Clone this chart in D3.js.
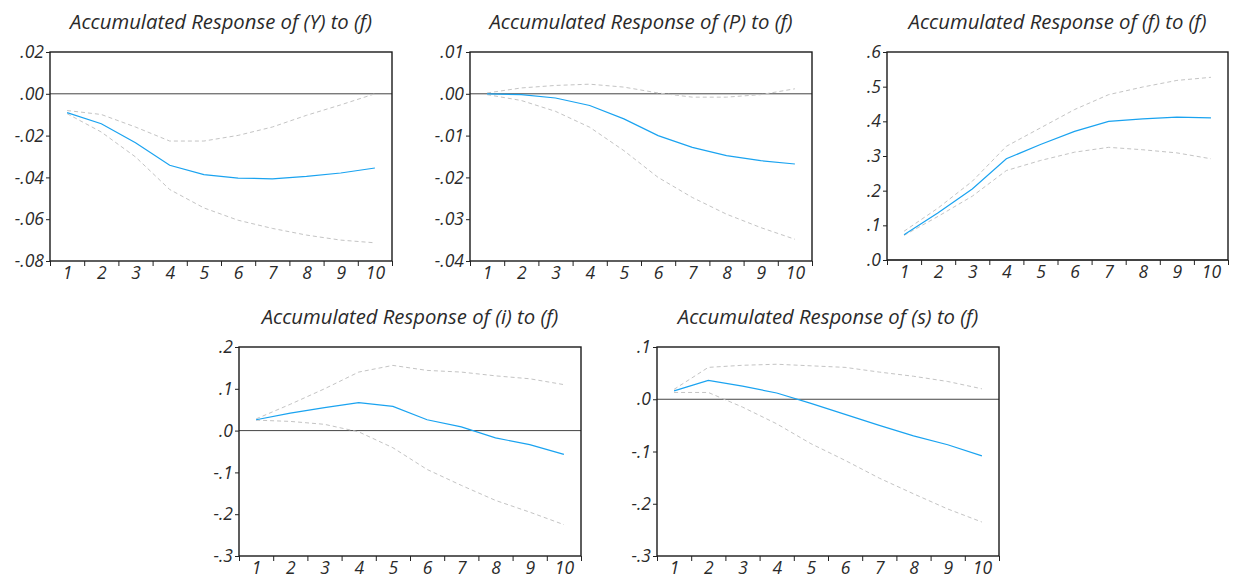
<!DOCTYPE html>
<html lang="en">
<head>
<meta charset="UTF-8">
<title>Accumulated Responses to (f)</title>
<style>
  * { margin: 0; }
  body { width: 1235px; height: 577px; background: #fff; overflow: hidden; }
  svg { display: block; }
  .title { font-family: "Open Sans", Lato, sans-serif; font-style: italic; font-weight: 400; font-size: 20.3px; fill: #2a2a2a; }
  .axis text { font-family: "Open Sans", Lato, sans-serif; font-style: italic; font-weight: 400; font-size: 17.5px; fill: #2a2a2a; }
  .axis path, .axis line { stroke: #222; }
</style>
</head>
<body>
<svg id="chart" width="1235" height="577"></svg>
<script src="https://d3js.org/d3.v7.min.js"></script>
<script>
// periods 1..10
const periods = [1, 2, 3, 4, 5, 6, 7, 8, 9, 10];

// (Y) to (f)
const yResp  = [-0.009, -0.0143, -0.0234, -0.0342, -0.0387, -0.0403, -0.0407, -0.0395, -0.0379, -0.0355];
const yUpper = [-0.008, -0.0099, -0.0159, -0.0226, -0.0226, -0.0199, -0.0159, -0.0103, -0.0053, 0.000];
const yLower = [-0.0095, -0.0183, -0.0302, -0.0458, -0.0546, -0.0605, -0.0644, -0.0676, -0.0700, -0.0713];
const yTicks = [0.02, 0.00, -0.02, -0.04, -0.06, -0.08];

// (P) to (f)
const pResp  = [0.000, -0.0002, -0.001, -0.0028, -0.006, -0.010, -0.0128, -0.0148, -0.016, -0.0168];
const pUpper = [0.0002, 0.0014, 0.0020, 0.0023, 0.0016, 0.0002, -0.0008, -0.0008, -0.0002, 0.0012];
const pLower = [-0.0002, -0.0016, -0.0042, -0.008, -0.0136, -0.020, -0.0248, -0.0288, -0.032, -0.0348];
const pTicks = [0.01, 0.00, -0.01, -0.02, -0.03, -0.04];

// (f) to (f)
const fResp  = [0.073, 0.136, 0.205, 0.292, 0.333, 0.371, 0.400, 0.407, 0.412, 0.410];
const fUpper = [0.083, 0.150, 0.227, 0.328, 0.381, 0.434, 0.477, 0.499, 0.518, 0.527];
const fLower = [0.071, 0.126, 0.184, 0.258, 0.287, 0.311, 0.325, 0.318, 0.309, 0.292];
const fTicks = [0.6, 0.5, 0.4, 0.3, 0.2, 0.1, 0.0];

// (i) to (f)
const iResp  = [0.026, 0.042, 0.055, 0.067, 0.058, 0.026, 0.009, -0.0175, -0.0335, -0.057];
const iUpper = [0.028, 0.063, 0.100, 0.140, 0.156, 0.144, 0.140, 0.131, 0.124, 0.110];
const iLower = [0.025, 0.022, 0.015, -0.003, -0.041, -0.093, -0.131, -0.167, -0.195, -0.225];
const iTicks = [0.2, 0.1, 0.0, -0.1, -0.2, -0.3];

// (s) to (f)
const sResp  = [0.016, 0.036, 0.025, 0.012, -0.008, -0.029, -0.050, -0.070, -0.087, -0.1085];
const sUpper = [0.019, 0.061, 0.065, 0.067, 0.064, 0.061, 0.052, 0.044, 0.034, 0.020];
const sLower = [0.013, 0.013, -0.015, -0.047, -0.085, -0.117, -0.151, -0.181, -0.210, -0.235];
const sTicks = [0.1, 0.0, -0.1, -0.2, -0.3];

const panels = [
  {title: "Accumulated Response of (Y) to (f)", resp: yResp, upper: yUpper, lower: yLower, ticks: yTicks, fmt: ".2f", x: 50,  y: 52,  w: 342, h: 209},
  {title: "Accumulated Response of (P) to (f)", resp: pResp, upper: pUpper, lower: pLower, ticks: pTicks, fmt: ".2f", x: 470, y: 52,  w: 342, h: 209},
  {title: "Accumulated Response of (f) to (f)", resp: fResp, upper: fUpper, lower: fLower, ticks: fTicks, fmt: ".1f", x: 887, y: 52,  w: 341, h: 208},
  {title: "Accumulated Response of (i) to (f)", resp: iResp, upper: iUpper, lower: iLower, ticks: iTicks, fmt: ".1f", x: 239, y: 347, w: 342, h: 209},
  {title: "Accumulated Response of (s) to (f)", resp: sResp, upper: sUpper, lower: sLower, ticks: sTicks, fmt: ".1f", x: 657, y: 347, w: 342, h: 209}
];

const svg = d3.select("#chart");

panels.forEach(p => {
  const g = svg.append("g").attr("transform", `translate(${p.x},${p.y})`);

  const x = d3.scaleLinear().domain([0.5, 10.5]).range([0, p.w]);
  const y = d3.scaleLinear().domain(d3.extent(p.ticks)).range([p.h, 0]);

  const f = d3.format(p.fmt);
  // EViews style labels: no leading zero, plain hyphen
  const noLead = v => f(v).replace("\u2212", "-").replace("0.", ".");

  // title
  g.append("text")
    .attr("class", "title")
    .attr("x", p.w / 2)
    .attr("y", -23)
    .attr("text-anchor", "middle")
    .text(p.title);

  // zero line
  g.append("line")
    .attr("x1", 0).attr("x2", p.w)
    .attr("y1", y(0)).attr("y2", y(0))
    .attr("stroke", "#444")
    .attr("stroke-width", 1);

  const line = d3.line().x((d, i) => x(periods[i])).y(d => y(d));

  g.append("path").datum(p.upper)
    .attr("d", line).attr("fill", "none")
    .attr("stroke", "#c4c4c4").attr("stroke-width", 1).attr("stroke-dasharray", "4,3");
  g.append("path").datum(p.lower)
    .attr("d", line).attr("fill", "none")
    .attr("stroke", "#c4c4c4").attr("stroke-width", 1).attr("stroke-dasharray", "4,3");
  g.append("path").datum(p.resp)
    .attr("d", line).attr("fill", "none")
    .attr("stroke", "#1aa3f0").attr("stroke-width", 1.2);

  // frame
  g.append("rect")
    .attr("width", p.w).attr("height", p.h)
    .attr("fill", "none").attr("stroke", "#1a1a1a").attr("stroke-width", 1.4);

  // y axis
  g.append("g").attr("class", "axis")
    .call(d3.axisLeft(y).tickValues(p.ticks).tickFormat(noLead).tickSize(4).tickPadding(2))
    .call(a => a.select(".domain").remove());

  // x axis: tick marks on band edges, labels at centres
  const edges = d3.range(0.5, 11, 1);
  g.append("g").attr("class", "axis")
    .attr("transform", `translate(0,${p.h})`)
    .call(d3.axisBottom(x).tickValues(edges).tickFormat("").tickSize(5))
    .call(a => a.select(".domain").remove());
  g.append("g").attr("class", "axis")
    .attr("transform", `translate(0,${p.h})`)
    .call(d3.axisBottom(x).tickValues(periods).tickFormat(d3.format("d")).tickSize(0).tickPadding(6))
    .call(a => a.select(".domain").remove());
});
</script>
</body>
</html>
